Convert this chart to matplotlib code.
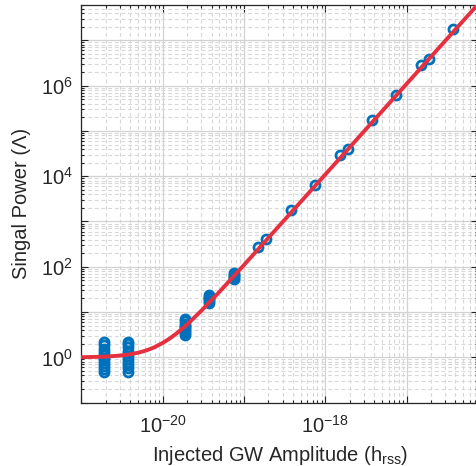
import matplotlib
matplotlib.use('Agg')
import matplotlib.pyplot as plt
import matplotlib.ticker as mticker
import numpy as np

plt.rcParams['font.family'] = ['Liberation Sans', 'DejaVu Sans']
plt.rcParams['mathtext.default'] = 'regular'

amp_low1 = 1.88e-21
pow_low1 = [0.47, 0.55, 0.64, 0.74, 0.86, 0.98, 1.12, 1.3, 1.55, 1.85, 2.2]
amp_low2 = 3.76e-21
pow_low2 = [0.48, 0.57, 0.68, 0.8, 0.93, 1.06, 1.22, 1.42, 1.7, 2.0, 2.2]
amp_mid1 = 1.88e-20
pow_mid1 = [3.1, 3.4, 3.8, 4.2, 4.6, 5.0, 5.6, 6.3, 7.2]
amp_mid2 = 3.76e-20
pow_mid2 = [16, 17.5, 19, 20.5, 22, 24]
amp_mid3 = 7.5e-20
pow_mid3 = [54, 58, 62, 67, 72]

amp_high = [1.5e-19, 1.88e-19, 3.76e-19, 7.5e-19, 1.5e-18, 1.88e-18,
            3.76e-18, 7.5e-18, 1.5e-17, 1.88e-17, 3.76e-17]
pow_high = [280, 410, 1750, 6300, 2.9e4, 3.9e4, 1.75e5, 6.3e5, 2.9e6, 3.8e6, 1.75e7]

# fitted curve
fit_amp = [1e-21, 2e-21, 3e-21, 4e-21, 5e-21, 6e-21, 7e-21, 8e-21, 1e-20,
           1.2e-20, 1.5e-20, 2e-20, 3e-20, 5e-20, 1e-19, 1e-18, 1e-17, 1e-16]
fit_pow = [1.01, 1.04, 1.10, 1.17, 1.27, 1.39, 1.53, 1.69, 2.09,
           2.56, 3.44, 5.34, 10.8, 28.1, 109.5, 1.085e4, 1.085e6, 1.085e8]

blue = '#0072BD'
red = '#E6303F'
fs = 14.5

fig = plt.figure(figsize=(4.76, 4.66), dpi=100)
ax = fig.add_axes([0.171, 0.1358, 0.833, 0.8535])

clusters = [(amp_low1, pow_low1), (amp_low2, pow_low2), (amp_mid1, pow_mid1),
            (amp_mid2, pow_mid2), (amp_mid3, pow_mid3)]
for a, p in clusters:
    ax.plot([a] * len(p), p, 'o', mfc='none', mec=blue, mew=2, ms=6.5, zorder=3)
ax.plot(amp_high, pow_high, 'o', mfc='none', mec=blue, mew=2, ms=6.5, zorder=3)
ax.plot(fit_amp, fit_pow, '-', color=red, lw=2.8, zorder=4)

ax.set_xscale('log')
ax.set_yscale('log')
ax.set_xlim(1e-21, 7.55e-17)
ax.set_ylim(0.1, 6.0e7)

ax.xaxis.set_major_locator(mticker.LogLocator(base=10, numticks=20))
ax.yaxis.set_major_locator(mticker.LogLocator(base=10, numticks=20))
ax.xaxis.set_minor_locator(mticker.LogLocator(base=10, subs=np.arange(2, 10), numticks=40))
ax.yaxis.set_minor_locator(mticker.LogLocator(base=10, subs=np.arange(2, 10), numticks=40))


def xfmt(v, pos):
    e = int(round(np.log10(v)))
    return r'$10^{%d}$' % e if e in (-20, -18) else ''


def yfmt(v, pos):
    e = int(round(np.log10(v)))
    return r'$10^{%d}$' % e if e in (0, 2, 4, 6) else ''


ax.xaxis.set_major_formatter(mticker.FuncFormatter(xfmt))
ax.yaxis.set_major_formatter(mticker.FuncFormatter(yfmt))
ax.xaxis.set_minor_formatter(mticker.NullFormatter())
ax.yaxis.set_minor_formatter(mticker.NullFormatter())

ax.grid(True, which='major', color='#d2d2d2', lw=0.9, ls='-')
ax.grid(True, which='minor', color='#d8d8d8', lw=0.8, ls=(0, (3.5, 2.5)))
ax.set_axisbelow(True)

ax.tick_params(which='both', direction='in', top=True, right=True,
               labelsize=fs, colors='#262626', width=0.8)
ax.tick_params(which='major', length=5)
ax.tick_params(which='minor', length=2.5)
ax.tick_params(axis='x', which='major', pad=9)
ax.tick_params(axis='y', which='major', pad=6)
for s in ax.spines.values():
    s.set_color('#262626')
    s.set_linewidth(0.9)

ax.set_xlabel(r'Injected GW Amplitude (h$_{rss}$)', fontsize=fs, color='#262626', labelpad=5)
ax.set_ylabel('Singal Power (Λ)', fontsize=fs, color='#262626', labelpad=7)

fig.savefig('out.png', dpi=100)
